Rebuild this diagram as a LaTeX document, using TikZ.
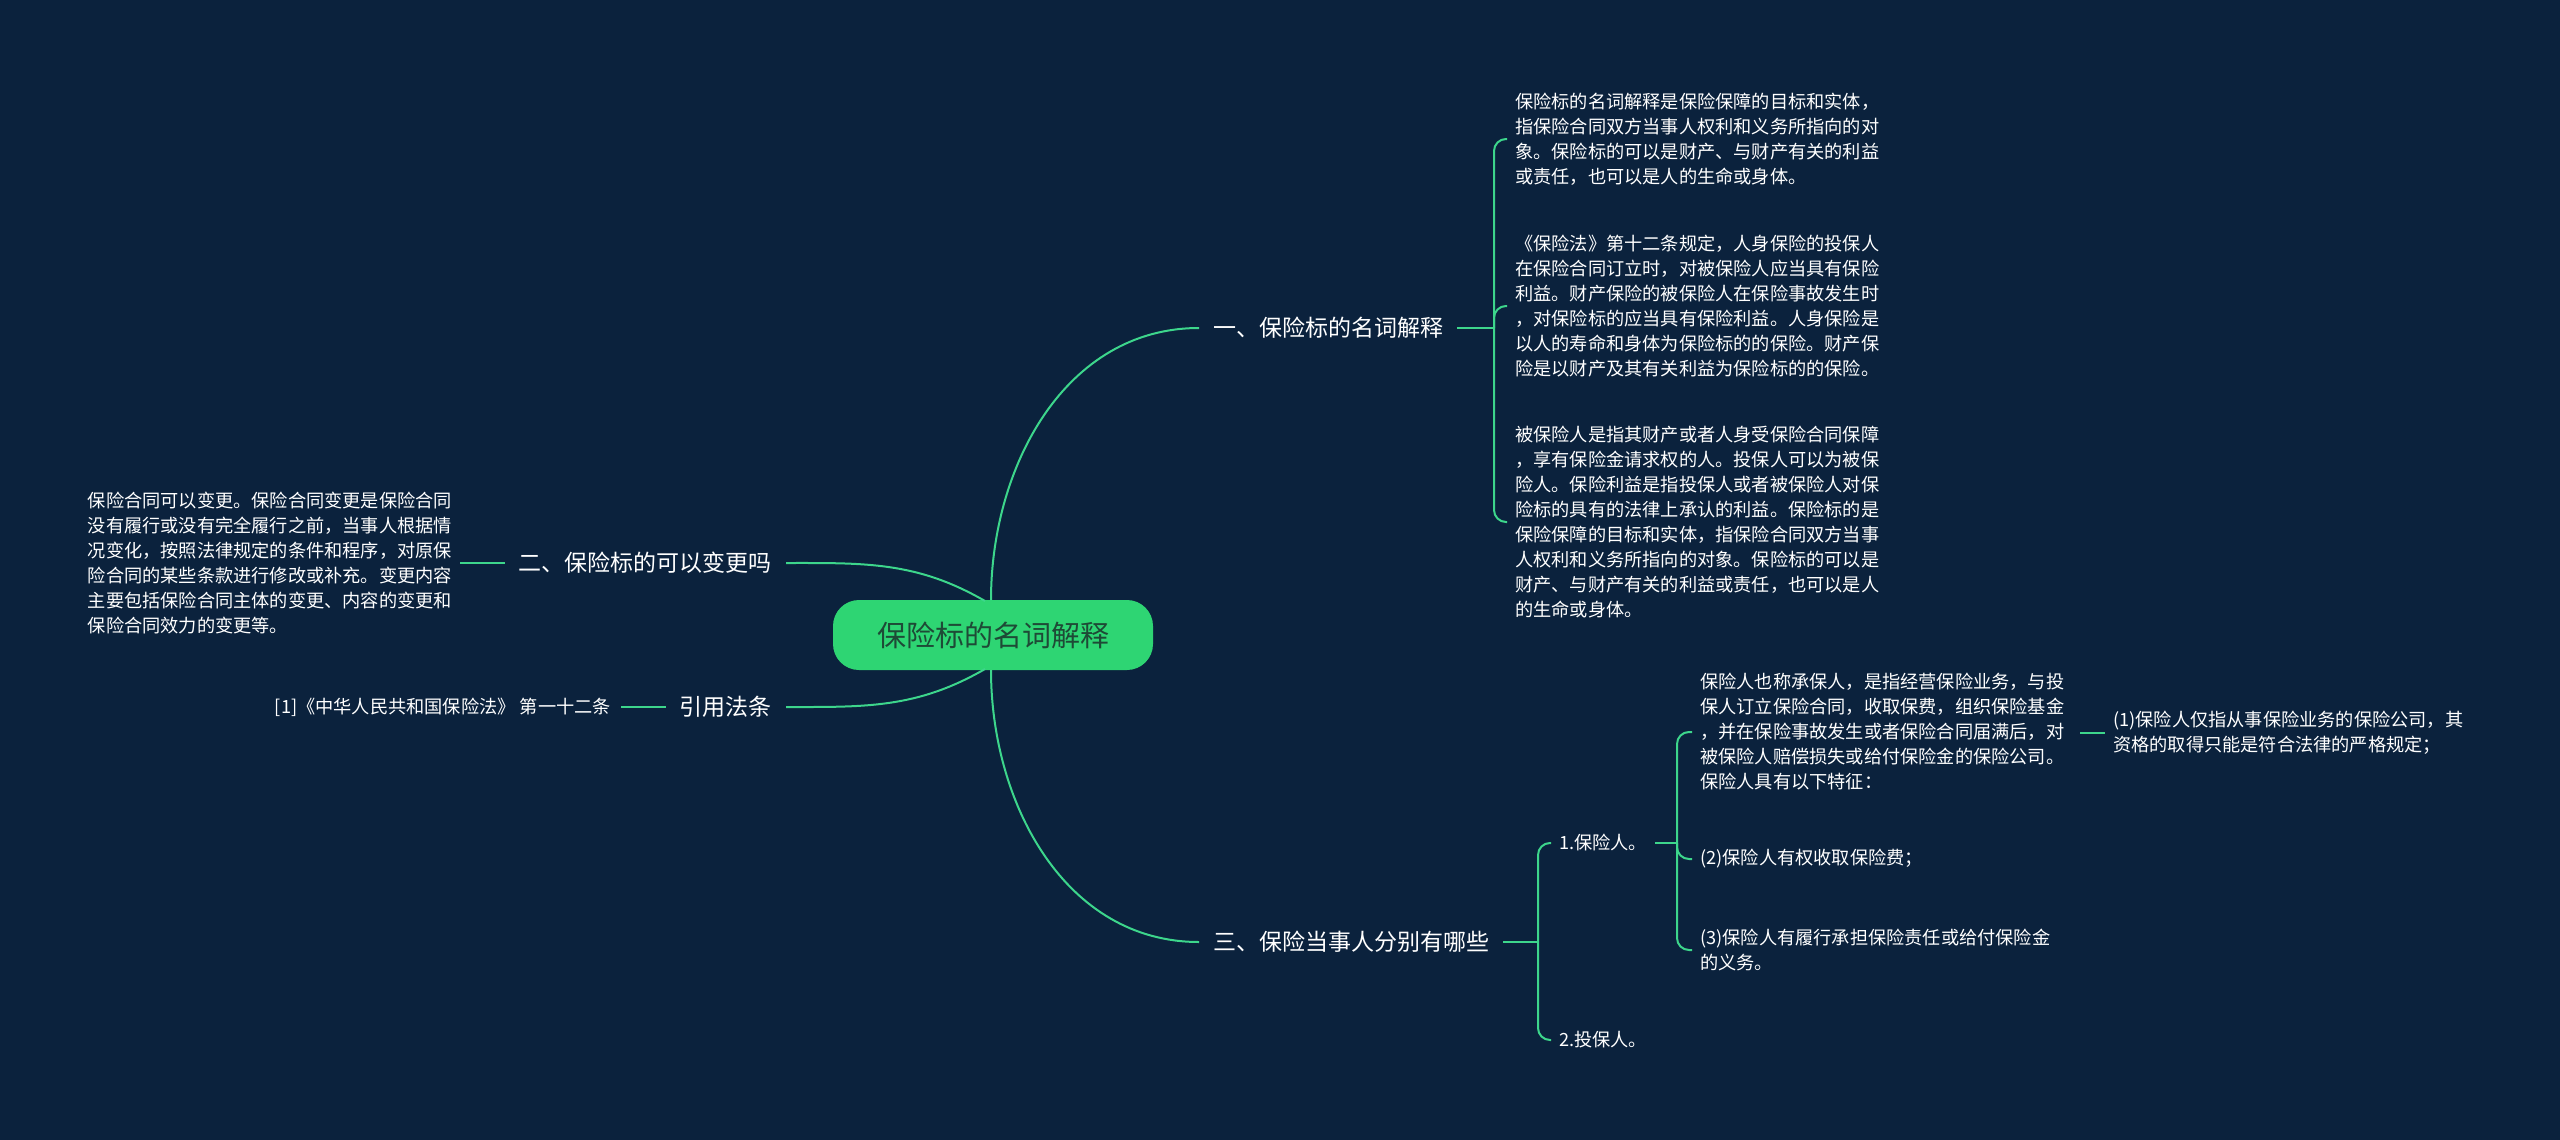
\documentclass[tikz,border=0pt]{standalone}
\usetikzlibrary{calc}
\usepackage{fontspec}
\setmainfont{Noto Sans CJK SC}
\definecolor{bg}{HTML}{0B223D}
\definecolor{gr}{HTML}{3DD68C}
\definecolor{cfill}{HTML}{2ED573}
\definecolor{ctext}{HTML}{1E4A36}
\begin{document}
\begin{tikzpicture}[x=1pt,y=-1pt,
  conn/.style={draw=gr,line width=2pt},
  br/.style={draw=gr,line width=2pt,rounded corners=12pt},
  leaf/.style={text=white,font=\fontsize{18.2}{25}\selectfont,align=left,inner xsep=8pt,inner ysep=0pt,anchor=west},
  branch/.style={text=white,font=\fontsize{23}{28}\selectfont,inner xsep=14pt,inner ysep=4pt},
]
\fill[bg] (0,0) rectangle (2560,1140);
\useasboundingbox (0,0) rectangle (2560,1140);
\node[fill=cfill,rounded corners=26pt,minimum width=320pt,minimum height=70pt,text=ctext,font=\fontsize{29}{34}\selectfont] (c) at (993,635) {保险标的名词解释};

% branch 1
\node[branch,anchor=west] (b1) at (1199,328) {一、保险标的名词解释};
\draw[conn] (991,600) to[out=90,in=180] (b1.west);
\coordinate (j1) at (1494,328);
\draw[conn] (b1.east) -- (j1);
\node[leaf] (l1) at (1507,139) {保险标的名词解释是保险保障的目标和实体，\\指保险合同双方当事人权利和义务所指向的对\\象。保险标的可以是财产、与财产有关的利益\\或责任，也可以是人的生命或身体。};
\node[leaf] (l2) at (1507,306) {《保险法》第十二条规定，人身保险的投保人\\在保险合同订立时，对被保险人应当具有保险\\利益。财产保险的被保险人在保险事故发生时\\，对保险标的应当具有保险利益。人身保险是\\以人的寿命和身体为保险标的的保险。财产保\\险是以财产及其有关利益为保险标的的保险。};
\node[leaf] (l3) at (1507,522) {被保险人是指其财产或者人身受保险合同保障\\，享有保险金请求权的人。投保人可以为被保\\险人。保险利益是指投保人或者被保险人对保\\险标的具有的法律上承认的利益。保险标的是\\保险保障的目标和实体，指保险合同双方当事\\人权利和义务所指向的对象。保险标的可以是\\财产、与财产有关的利益或责任，也可以是人\\的生命或身体。};
\foreach \n in {l1,l2,l3} \draw[br] (j1) |- (\n.west);

% branch 2
\node[branch,anchor=east] (b2) at (786,563) {二、保险标的可以变更吗};
\draw[conn] (985,601) to[out=150,in=0] (b2.east);
\node[leaf,anchor=east,inner xsep=0pt] (l4) at (452,563) {保险合同可以变更。保险合同变更是保险合同\\没有履行或没有完全履行之前，当事人根据情\\况变化，按照法律规定的条件和程序，对原保\\险合同的某些条款进行修改或补充。变更内容\\主要包括保险合同主体的变更、内容的变更和\\保险合同效力的变更等。};
\coordinate (e4) at ($(l4.east)+(8,0)$);
\draw[conn] (b2.west) -- (e4);

% 引用法条
\node[branch,anchor=east] (b3) at (786,707) {引用法条};
\draw[conn] (985,669) to[out=210,in=0] (b3.east);
\node[leaf,anchor=east,inner xsep=0pt] (l5) at (611,707) {[1]《中华人民共和国保险法》 第一十二条};
\coordinate (e5) at ($(l5.east)+(10,0)$);
\draw[conn] (b3.west) -- (e5);

% branch 3
\node[branch,anchor=west] (b4) at (1199,942) {三、保险当事人分别有哪些};
\draw[conn] (991,670) to[out=270,in=180] (b4.west);
\coordinate (j2) at (1538,942);
\draw[conn] (b4.east) -- (j2);
\node[leaf] (m1) at (1551,843) {1.保险人。};
\node[leaf] (m2) at (1551,1040) {2.投保人。};
\foreach \n in {m1,m2} \draw[br] (j2) |- (\n.west);
\coordinate (j3) at (1677,843);
\draw[conn] (m1.east) -- (j3);
\node[leaf] (p1) at (1692,732) {保险人也称承保人，是指经营保险业务，与投\\保人订立保险合同，收取保费，组织保险基金\\，并在保险事故发生或者保险合同届满后，对\\被保险人赔偿损失或给付保险金的保险公司。\\保险人具有以下特征：};
\node[leaf] (p2) at (1692,859) {(2)保险人有权收取保险费；};
\node[leaf] (p3) at (1692,950) {(3)保险人有履行承担保险责任或给付保险金\\的义务。};
\foreach \n in {p1,p2,p3} \draw[br] (j3) |- (\n.west);
\coordinate (s1) at ($(p1.east)+(8,1)$);
\node[leaf] (q1) at (2105,733) {(1)保险人仅指从事保险业务的保险公司，其\\资格的取得只能是符合法律的严格规定；};
\draw[conn] (s1) -- (q1.west);
\end{tikzpicture}
\end{document}
